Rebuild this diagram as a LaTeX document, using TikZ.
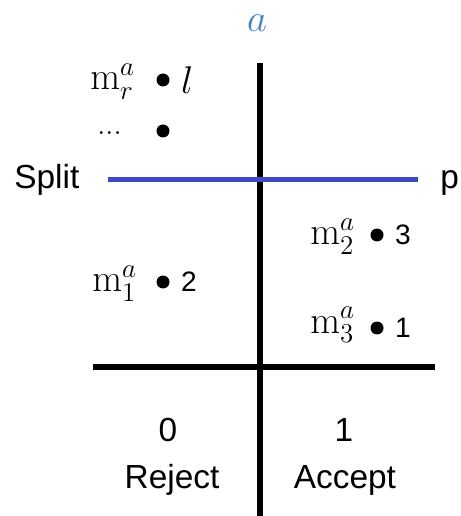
\RequirePackage{fix-cm}
\documentclass[tikz,border=0pt]{standalone}
\usepackage{amsmath}
\usepackage[no-math]{fontspec}
\setmainfont{Liberation Sans}
\usepackage{tikz}
\usetikzlibrary{positioning}
\definecolor{splitblue}{RGB}{64,72,200}
\definecolor{ablue}{RGB}{70,130,200}

\begin{document}
\begin{tikzpicture}[x=0.02cm, y=-0.02cm,
    txt/.style={font=\fontsize{19}{23}\selectfont, inner sep=0pt},
    num/.style={font=\fontsize{16}{19}\selectfont, inner sep=0pt},
    mtx/.style={font=\fontsize{22}{26}\selectfont, inner sep=0pt},
    axis/.style={line width=0.12cm},
    pt/.style={circle, fill=black, inner sep=0pt, minimum size=0.26cm}]
    \useasboundingbox (0,0) rectangle (460,516);
    % axes
    \coordinate (vtop) at (260,63);
    \coordinate (vbot) at (260,516);
    \coordinate (hleft) at (93,367);
    \coordinate (hright) at (435,367);
    \draw[axis] (vtop) -- (vbot);
    \draw[axis] (hleft) -- (hright);
    \node[mtx, text=ablue] (alab) at (257,23) {$a$};
    % split line
    \node[txt, anchor=base west] (split) at (14,189) {Split};
    \node[txt, anchor=base west] (plab) at (440,189) {p};
    \coordinate (sleft) at (108,180);
    \coordinate (sright) at (418,180);
    \draw[splitblue, line width=0.1cm] (sleft) -- (sright);
    % left side: rejected
    \node[pt] (dr) at (163,80) {};
    \node[mtx, anchor=base west] (mr) at (90,90) {$\mathrm{m}_r^a$};
    \node[mtx, right=0.22cm of dr] (lr) {$l$};
    \node[pt] (ddots) at (163,131) {};
    \node[font=\fontsize{17}{20}\selectfont, inner sep=0pt, anchor=base west] (mdots) at (97,135) {$...$};
    \node[pt] (d1) at (163,282) {};
    \node[mtx, anchor=base west] (m1) at (92,292) {$\mathrm{m}_1^a$};
    \node[num, right=0.22cm of d1] (r1) {2};
    % right side: accepted
    \node[pt] (d2) at (377,235) {};
    \node[mtx, anchor=base west] (m2) at (310,245) {$\mathrm{m}_2^a$};
    \node[num, right=0.22cm of d2] (r2) {3};
    \node[pt] (d3) at (377,328) {};
    \node[mtx, anchor=base west] (m3) at (310,333) {$\mathrm{m}_3^a$};
    \node[num, right=0.22cm of d3] (r3) {1};
    % decisions
    \node[txt, anchor=base] (zero) at (168,441) {0};
    \node[txt, anchor=base] (one) at (344,441) {1};
    \node[txt, anchor=base] (rej) at (172,488) {Reject};
    \node[txt, anchor=base] (acc) at (345,488) {Accept};
\end{tikzpicture}
\end{document}
